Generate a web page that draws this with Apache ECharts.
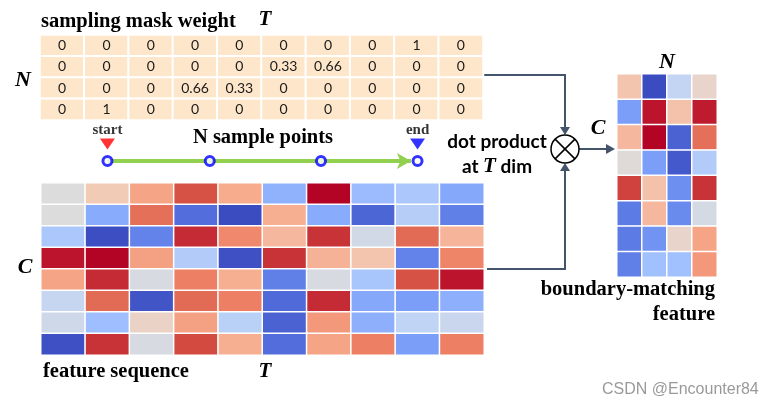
<!DOCTYPE html>
<html>
<head>
<meta charset="utf-8">
<script src="https://cdn.jsdelivr.net/npm/echarts@6/dist/echarts.min.js"></script>
<style>
html,body{margin:0;padding:0;background:#fff;}
#c{width:767px;height:406px;}
</style>
</head>
<body>
<div id="c"></div>
<script>
// ---- data ----
var tLabels = ['t1','t2','t3','t4','t5','t6','t7','t8','t9','t10'];
var nLabels = ['n1','n2','n3','n4'];
var cLabels = ['c1','c2','c3','c4','c5','c6','c7','c8'];

var maskRow1 = [0,0,0,0,0,0,0,0,1,0];
var maskRow2 = [0,0,0,0,0,0.33,0.66,0,0,0];
var maskRow3 = [0,0,0,0.66,0.33,0,0,0,0,0];
var maskRow4 = [0,1,0,0,0,0,0,0,0,0];

var featRow1 = [5.0,6.0,7.2,9.0,7.0,2.6,10.0,2.9,3.4,2.3];
var featRow2 = [5.0,2.4,8.4,0.8,0.0,6.9,2.4,0.6,3.7,1.2];
var featRow3 = [3.4,0.05,1.3,9.5,7.9,6.6,9.4,4.6,8.5,6.7];
var featRow4 = [9.8,10.0,7.3,3.6,0.1,9.4,6.8,6.2,1.3,8.0];
var featRow5 = [7.2,9.5,4.8,8.1,6.9,1.2,4.8,3.3,9.0,9.8];
var featRow6 = [4.2,8.5,0.2,8.5,8.1,0.7,9.5,2.3,2.0,2.5];
var featRow7 = [4.5,3.0,5.6,7.3,3.8,0.5,7.5,2.5,4.0,4.3];
var featRow8 = [0.1,9.4,4.8,9.1,6.9,0.8,7.2,8.1,2.0,8.1];

var bmRow1 = [6.2,0.0,4.1,5.5];
var bmRow2 = [2.0,9.8,6.3,9.7];
var bmRow3 = [6.6,10.0,0.5,8.4];
var bmRow4 = [5.1,2.0,0.3,3.6];
var bmRow5 = [9.2,6.3,1.6,9.4];
var bmRow6 = [1.1,6.6,1.5,4.7];
var bmRow7 = [1.1,1.7,5.5,7.2];
var bmRow8 = [1.2,3.1,3.1,7.5];

var samplePos = [1, 3.31, 5.82, 8];
var markerPos = [1, 8];
var markerNames = ['start','end'];

// ---- build ----
function toCells(rows){
  var out=[];
  rows.forEach(function(r,ri){ r.forEach(function(v,ci){ out.push([ci,ri,v]); }); });
  return out;
}
var maskCells = toCells([maskRow1,maskRow2,maskRow3,maskRow4]);
var featCells = toCells([featRow1,featRow2,featRow3,featRow4,featRow5,featRow6,featRow7,featRow8]);
var bmCells = toCells([bmRow1,bmRow2,bmRow3,bmRow4,bmRow5,bmRow6,bmRow7,bmRow8]);

var coolwarm = ['#3b4cc0','#5977e3','#7b9ff9','#9ebeff','#c0d4f5','#dddcdc','#f2cbb7','#f7ac8e','#ee8468','#d65244','#b40426'];

function hiddenCat(data, gi, inverse){
  return {type:'category', data:data, gridIndex:gi, inverse:!!inverse,
    axisLine:{show:false}, axisTick:{show:false}, axisLabel:{show:false}, splitLine:{show:false}};
}
function hiddenVal(gi,min,max){
  return {type:'value', gridIndex:gi, min:min, max:max,
    axisLine:{show:false}, axisTick:{show:false}, axisLabel:{show:false}, splitLine:{show:false}};
}

var serif = '"Liberation Serif", "Times New Roman", serif';
var lineCol = '#44546a';

var chart = echarts.init(document.getElementById('c'), null, {renderer:'canvas'});
var option = {
  animation:false,
  backgroundColor:'#ffffff',
  grid:[
    {left:40, top:35, width:443, height:85},
    {left:41, top:183, width:443, height:172},
    {left:617, top:74, width:100, height:203},
    {left:41, top:125, width:443, height:40}
  ],
  xAxis:[ hiddenCat(tLabels,0), hiddenCat(tLabels,1), hiddenCat(nLabels,2), hiddenVal(3,-0.5,9.5) ],
  yAxis:[ hiddenCat(nLabels,0,true), hiddenCat(cLabels,1,true), hiddenCat(cLabels,2,true), hiddenVal(3,0,1) ],
  visualMap:{type:'continuous', show:false, min:0, max:10, dimension:2, seriesIndex:[1,2],
    inRange:{color:coolwarm}},
  series:[
    {type:'heatmap', xAxisIndex:0, yAxisIndex:0, data:maskCells,
      itemStyle:{color:'#fde6ca', borderColor:'#ffffff', borderWidth:2},
      label:{show:true, color:'#1a1a1a', fontFamily:'Lato', fontSize:14,
        formatter:function(p){ return String(p.value[2]); }}},
    {type:'heatmap', xAxisIndex:1, yAxisIndex:1, data:featCells,
      itemStyle:{borderColor:'#ffffff', borderWidth:1.5}},
    {type:'heatmap', xAxisIndex:2, yAxisIndex:2, data:bmCells,
      itemStyle:{borderColor:'#ffffff', borderWidth:1.5}},
    {type:'scatter', xAxisIndex:3, yAxisIndex:3, z:4,
      data:samplePos.map(function(x){return [x,0.1];}),
      symbol:'circle', symbolSize:9,
      itemStyle:{color:'#ffffff', borderColor:'#0000ff', borderWidth:3},
      markLine:{silent:true, z:1, symbol:['none','arrow'], symbolSize:[12,14],
        label:{show:false},
        lineStyle:{color:'#92d050', width:4, type:'solid'},
        data:[[{coord:[samplePos[0],0.1]},{coord:[7.85,0.1]}]]}},
    {type:'scatter', xAxisIndex:3, yAxisIndex:3, z:4,
      data:markerPos.map(function(x,i){
        return {value:[x,0.525], name:markerNames[i], itemStyle:{color:i===0?'#ff0000':'#0000ff'}};
      }),
      symbol:'triangle', symbolRotate:180, symbolSize:[15,11],
      label:{show:true, position:'top', distance:1, formatter:'{b}',
        fontFamily:serif, fontWeight:'bold', fontSize:15, color:'#000'}}
  ],
  graphic:[
    {type:'text', style:{text:'sampling mask weight', x:41, y:22, font:'bold 20.5px '+serif, fill:'#000', textAlign:'left', textVerticalAlign:'middle'}},
    {type:'text', style:{text:'T', x:265, y:20, font:'italic bold 21px '+serif, fill:'#000', textAlign:'center', textVerticalAlign:'middle'}},
    {type:'text', style:{text:'N', x:23, y:80, font:'italic bold 22px '+serif, fill:'#000', textAlign:'center', textVerticalAlign:'middle'}},
    {type:'text', style:{text:'N sample points', x:263, y:138, font:'bold 20.5px '+serif, fill:'#000', textAlign:'center', textVerticalAlign:'middle'}},
    {type:'text', style:{text:'C', x:25, y:267, font:'italic bold 22px '+serif, fill:'#000', textAlign:'center', textVerticalAlign:'middle'}},
    {type:'text', style:{text:'feature sequence', x:43, y:372, font:'bold 20.5px '+serif, fill:'#000', textAlign:'left', textVerticalAlign:'middle'}},
    {type:'text', style:{text:'T', x:265, y:372, font:'italic bold 21px '+serif, fill:'#000', textAlign:'center', textVerticalAlign:'middle'}},
    {type:'text', style:{text:'dot product', x:497, y:142, font:'bold 19px Lato', fill:'#000', textAlign:'center', textVerticalAlign:'middle'}},
    {type:'text', style:{text:'at {t|T} dim', x:497, y:167, font:'bold 19px Lato', fill:'#000', textAlign:'center', textVerticalAlign:'middle',
      rich:{t:{font:'italic bold 21px '+serif, fill:'#000'}}}},
    {type:'text', style:{text:'N', x:667, y:62, font:'italic bold 22px '+serif, fill:'#000', textAlign:'center', textVerticalAlign:'middle'}},
    {type:'text', style:{text:'C', x:598, y:128, font:'italic bold 22px '+serif, fill:'#000', textAlign:'center', textVerticalAlign:'middle'}},
    {type:'text', style:{text:'boundary-matching', x:715, y:290, font:'bold 20.5px '+serif, fill:'#000', textAlign:'right', textVerticalAlign:'middle'}},
    {type:'text', style:{text:'feature', x:715, y:315, font:'bold 20.5px '+serif, fill:'#000', textAlign:'right', textVerticalAlign:'middle'}},
    {type:'text', style:{text:'CSDN @Encounter84', x:602, y:390, font:'16px "Liberation Sans", Arial, sans-serif', fill:'#9a9a9a', textAlign:'left', textVerticalAlign:'middle'}},
    // connectors
    {type:'polyline', shape:{points:[[483,75],[565,75],[565,129]]}, style:{stroke:lineCol, lineWidth:2, fill:null}},
    {type:'polygon', shape:{points:[[560,127],[570,127],[565,135]]}, style:{fill:lineCol}},
    {type:'polyline', shape:{points:[[487,269],[565,269],[565,170]]}, style:{stroke:lineCol, lineWidth:2, fill:null}},
    {type:'polygon', shape:{points:[[560,171],[570,171],[565,163]]}, style:{fill:lineCol}},
    {type:'line', shape:{x1:579, y1:149, x2:608, y2:149}, style:{stroke:lineCol, lineWidth:2}},
    {type:'polygon', shape:{points:[[606,144],[606,154],[615,149]]}, style:{fill:lineCol}},
    {type:'circle', shape:{cx:565, cy:149, r:14}, style:{stroke:'#000', lineWidth:1.5, fill:'#fff'}},
    {type:'line', shape:{x1:555.1, y1:139.1, x2:574.9, y2:158.9}, style:{stroke:'#000', lineWidth:1.5}},
    {type:'line', shape:{x1:574.9, y1:139.1, x2:555.1, y2:158.9}, style:{stroke:'#000', lineWidth:1.5}}
  ]
};
chart.setOption(option);
</script>
</body>
</html>
